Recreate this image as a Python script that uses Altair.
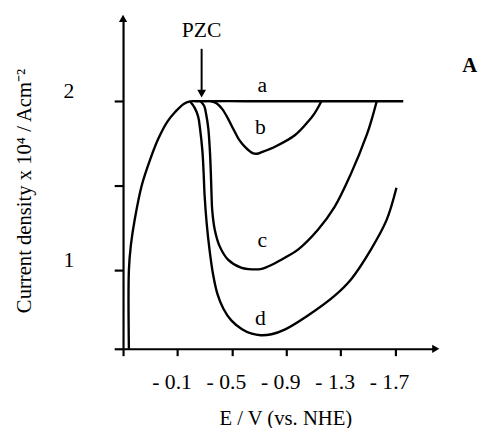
import altair as alt
import pandas as pd

# ---- axes ----
X_DOMAIN = [0.3, -2.0]
Y_DOMAIN = [0.535, 2.49]
X_TICKS = [0.3, -0.1, -0.5, -0.9, -1.3, -1.7]
Y_TICKS = [0.535, 1.0, 1.5, 2.0]

# ---- curves (E / V, current density) ----
A_X = [0.257, 0.257, 0.242, 0.215, 0.163, 0.097, 0.040, -0.025, -0.083, -0.146, -0.192, -0.242, -0.600, -1.000, -1.400, -1.761]
A_Y = [0.535, 1.000, 1.151, 1.296, 1.500, 1.663, 1.779, 1.878, 1.936, 1.984, 1.999, 2.000, 2.000, 2.000, 2.000, 2.000]

B_X = [-0.344, -0.387, -0.430, -0.472, -0.510, -0.553, -0.604, -0.653, -0.684, -0.725, -0.821, -0.966, -1.060, -1.110, -1.159]
B_Y = [2.000, 1.988, 1.953, 1.897, 1.837, 1.773, 1.724, 1.693, 1.689, 1.700, 1.732, 1.800, 1.878, 1.930, 2.000]

C_X = [-0.271, -0.297, -0.311, -0.327, -0.339, -0.346, -0.351, -0.356, -0.375, -0.411, -0.472, -0.568, -0.653, -0.720, -0.799, -0.893, -0.987, -1.132, -1.255, -1.376, -1.493, -1.530, -1.566]
C_Y = [2.000, 1.971, 1.924, 1.839, 1.703, 1.570, 1.442, 1.354, 1.238, 1.141, 1.063, 1.015, 1.005, 1.008, 1.034, 1.075, 1.122, 1.238, 1.373, 1.570, 1.802, 1.895, 2.000]

D_X = [-0.192, -0.228, -0.253, -0.266, -0.284, -0.293, -0.300, -0.315, -0.336, -0.362, -0.394, -0.438, -0.496, -0.575, -0.647, -0.713, -0.792, -0.893, -1.060, -1.255, -1.378, -1.523, -1.638, -1.711]
D_Y = [1.999, 1.959, 1.907, 1.839, 1.703, 1.570, 1.442, 1.279, 1.122, 0.976, 0.860, 0.772, 0.703, 0.651, 0.624, 0.615, 0.621, 0.650, 0.732, 0.848, 0.947, 1.122, 1.296, 1.488]

CURVE_NAMES = ["a", "b", "c", "d"]
LABEL_X = [-0.725, -0.711, -0.725, -0.711]
LABEL_Y = [2.093, 1.849, 1.180, 0.715]

PZC_X = -0.278
PZC_TEXT_Y = 2.42
PZC_ARROW_Y = [2.31, 2.06]
PZC_HEAD_Y = 2.045

PANEL_LABEL = "A"
PANEL_X = -2.25
PANEL_Y = 2.205

FONT = "Liberation Serif"

rows = []
for name, xs, ys in zip(CURVE_NAMES, [A_X, B_X, C_X, D_X], [A_Y, B_Y, C_Y, D_Y]):
    for i, (xv, yv) in enumerate(zip(xs, ys)):
        rows.append({"curve": name, "idx": i, "E": xv, "J": yv})
curves = pd.DataFrame(rows)

labels = pd.DataFrame({"E": LABEL_X, "J": LABEL_Y, "t": CURVE_NAMES})

xscale = alt.Scale(domain=X_DOMAIN, nice=False, zero=False)
yscale = alt.Scale(domain=Y_DOMAIN, nice=False, zero=False)

x_axis = alt.Axis(
    values=X_TICKS,
    labelExpr="datum.value > 0.2 ? '' : '- ' + format(abs(datum.value), '.1f')",
    grid=False, domainColor="black", domainWidth=2.2, tickColor="black", tickWidth=2.2,
    tickSize=7, labelFont=FONT, labelFontSize=22, labelColor="black",
    labelPadding=16, labelOffset=-6, labelBaseline="top",
    title="E / V (vs. NHE)", titleFont=FONT, titleFontSize=21, titleFontWeight="normal",
    titleColor="black", titleX=165, titleY=71, titleBaseline="middle", titleAlign="center",
)
y_axis = alt.Axis(
    values=Y_TICKS,
    labelExpr="datum.value == 1 || datum.value == 2 ? format(datum.value, 'd') : ''",
    grid=False, domainColor="black", domainWidth=2.2, tickColor="black", tickWidth=2.2,
    tickSize=9, labelFont=FONT, labelFontSize=22, labelColor="black",
    labelPadding=41, labelOffset=-11,
    title="Current density x 10⁴ / Acm⁻²", titleFont=FONT, titleFontSize=21,
    titleFontWeight="normal", titleColor="black", titleX=-100, titleY=175,
    titleAngle=-90, titleBaseline="middle", titleAlign="center",
)

lines = alt.Chart(curves).mark_line(color="black", strokeWidth=2.4, interpolate="catmull-rom").encode(
    x=alt.X("E:Q", scale=xscale, axis=x_axis),
    y=alt.Y("J:Q", scale=yscale, axis=y_axis),
    detail="curve:N",
    order="idx:Q",
)

text = alt.Chart(labels).mark_text(font=FONT, fontSize=22, color="black").encode(
    x=alt.X("E:Q", scale=xscale), y=alt.Y("J:Q", scale=yscale), text="t:N"
)

yarrow = alt.Chart(pd.DataFrame({"E": [X_DOMAIN[0]], "J": [Y_DOMAIN[1]]})).mark_point(
    shape="triangle-up", filled=True, color="black", opacity=1, size=70, dy=6
).encode(x=alt.X("E:Q", scale=xscale), y=alt.Y("J:Q", scale=yscale))

xarrow = alt.Chart(pd.DataFrame({"E": [X_DOMAIN[1]], "J": [Y_DOMAIN[0]]})).mark_point(
    shape="triangle-right", filled=True, color="black", opacity=1, size=70, dx=-6
).encode(x=alt.X("E:Q", scale=xscale), y=alt.Y("J:Q", scale=yscale))

pzc_df = pd.DataFrame({"E": [PZC_X], "J": [PZC_ARROW_Y[0]], "J2": [PZC_ARROW_Y[1]],
                       "JH": [PZC_HEAD_Y], "JT": [PZC_TEXT_Y], "t": ["PZC"]})
pzc_rule = alt.Chart(pzc_df).mark_rule(color="black", strokeWidth=2).encode(
    x=alt.X("E:Q", scale=xscale), y=alt.Y("J:Q", scale=yscale), y2="J2:Q"
)
pzc_head = alt.Chart(pzc_df).mark_point(
    shape="triangle-down", filled=True, color="black", opacity=1, size=80
).encode(x=alt.X("E:Q", scale=xscale), y=alt.Y("JH:Q", scale=yscale))
pzc_text = alt.Chart(pzc_df).mark_text(font=FONT, fontSize=22, color="black").encode(
    x=alt.X("E:Q", scale=xscale), y=alt.Y("JT:Q", scale=yscale), text="t:N"
)

panel = alt.Chart(pd.DataFrame({"E": [PANEL_X], "J": [PANEL_Y], "t": [PANEL_LABEL]})).mark_text(
    font=FONT, fontSize=21, fontWeight="bold", color="black"
).encode(x=alt.X("E:Q", scale=xscale), y=alt.Y("J:Q", scale=yscale), text="t:N")

chart = alt.layer(lines, text, yarrow, xarrow, pzc_rule, pzc_head, pzc_text, panel).properties(
    width=318, height=336,
    autosize=alt.AutoSizeParams(type="none"),
    padding={"left": 117, "top": 7, "right": 44, "bottom": 77},
).configure_view(stroke=None)

chart.save("out.html", embed_options={"renderer": "svg", "actions": False})
